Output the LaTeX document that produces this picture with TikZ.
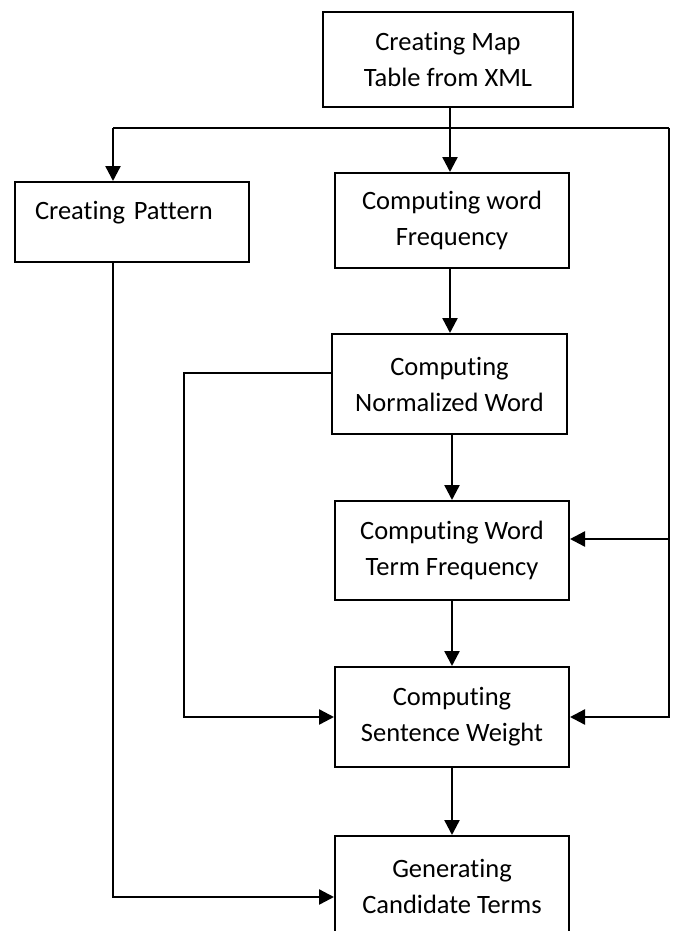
\documentclass[tikz,border=0pt]{standalone}
\usepackage{fontspec}
\setmainfont{Carlito}[Ligatures={NoCommon}]
\usetikzlibrary{arrows.meta}

\begin{document}
\begin{tikzpicture}[
        x=1pt, y=-1pt,
        procbox/.style={draw, line width=2pt, align=center, inner sep=0pt},
        arrow/.style={-{Triangle[length=15pt, width=15pt]}, line width=2.4pt},
        flowline/.style={line width=2.4pt},
        font=\fontsize{26.5}{36}\selectfont
    ]
    \path[use as bounding box, fill=white] (0,0) rectangle (673,931);

    % ==========================================
    % BOXES
    % ==========================================
    \node[procbox, minimum width=250pt, minimum height=95pt] (map) at (448,59.5) {Creating Map\\Table from XML};
    \node[procbox, align=left, text width=194pt, inner xsep=20pt, text height=37pt, text depth=43pt] (pattern) at (132,222) {Creating Pattern};
    \node[procbox, minimum width=234pt, minimum height=95pt] (freq) at (452,220.5) {Computing word\\Frequency};
    \node[procbox, minimum width=235pt, minimum height=100pt] (norm) at (449.5,384) {Computing\\Normalized Word};
    \node[procbox, minimum width=234pt, minimum height=99pt] (termf) at (452,550.5) {Computing Word\\Term Frequency};
    \node[procbox, minimum width=234pt, minimum height=100pt] (sent) at (452,717) {Computing\\Sentence Weight};
    \node[procbox, minimum width=234pt, minimum height=100pt] (gen) at (452,886) {Generating\\Candidate Terms};

    % ==========================================
    % CONNECTORS
    % ==========================================
    \coordinate (hub) at (450,128);
    \coordinate (leftdrop) at (113,128);
    \coordinate (rightdrop) at (669,128);
    \coordinate (normbend) at (184,373);

    \draw[arrow] (hub |- map.south) -- (hub |- freq.north);
    \draw[flowline] (leftdrop) -- (rightdrop);
    \draw[arrow] (leftdrop) -- (leftdrop |- pattern.north);
    \draw[arrow] (rightdrop) |- ([yshift=11.5pt]termf.east);
    \draw[arrow] (rightdrop) |- (sent.east);

    \draw[arrow] (hub |- freq.south) -- (hub |- norm.north);
    \draw[arrow] (termf.north |- norm.south) -- (termf.north);
    \draw[arrow] (termf.south) -- (sent.north);
    \draw[arrow] (sent.south) -- (gen.north);

    % side paths into the lower boxes
    \draw[arrow] ([yshift=11pt]norm.west) -- (normbend) |- (sent.west);
    \draw[arrow] (leftdrop |- pattern.south) |- ([yshift=-11pt]gen.west);

\end{tikzpicture}
\end{document}
